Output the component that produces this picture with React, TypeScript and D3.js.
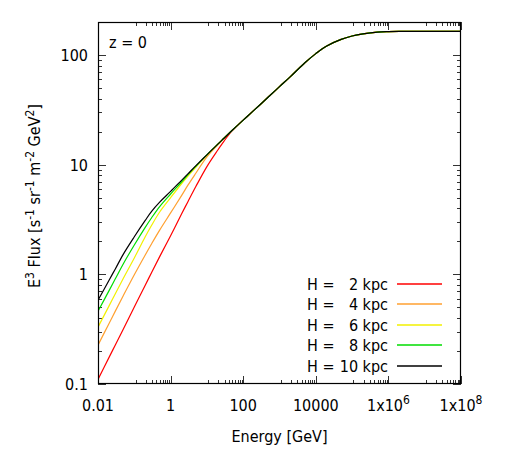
import React, { useRef, useEffect } from "react";
import * as d3 from "d3";

// energy grid [GeV] shared by every halo-height curve
const energies = [
  0.01, 0.02, 0.03, 0.05, 0.1, 0.2, 0.3, 0.5, 1, 2, 3, 5, 10, 20, 30, 50, 100,
  200, 500, 1000, 2000, 5000, 1e4, 2e4, 5e4, 1e5, 2e5, 5e5, 1e6, 2e6, 1e7, 1e8,
];

// E^3 flux for each halo height H
const flux2kpc = [
  0.11, 0.174, 0.227, 0.318, 0.503, 0.795, 1.04, 1.45, 2.25, 3.55, 4.6, 6.35,
  9.6, 13.6, 16.5, 20.4, 25.5, 31.4, 41.6, 51.5, 63.5, 85, 103, 121, 139, 149,
  156, 162, 163.5, 164, 164, 164,
];
const flux4kpc = [
  0.226, 0.355, 0.462, 0.641, 0.99, 1.5, 1.9, 2.53, 3.63, 5.22, 6.5, 8.4, 11.8,
  15.2, 17.5, 20.6, 25.5, 31.4, 41.6, 51.5, 63.5, 85, 103, 121, 139, 149, 156,
  162, 163.5, 164, 164, 164,
];
const flux6kpc = [
  0.33, 0.513, 0.665, 0.92, 1.41, 2.2, 2.8, 3.7, 5.0, 6.7, 7.85, 9.5, 12.2,
  15.4, 17.5, 20.6, 25.5, 31.4, 41.6, 51.5, 63.5, 85, 103, 121, 139, 149, 156,
  162, 163.5, 164, 164, 164,
];
const flux8kpc = [
  0.46, 0.707, 0.91, 1.25, 1.85, 2.68, 3.28, 4.15, 5.4, 6.95, 8.1, 9.7, 12.3,
  15.4, 17.5, 20.6, 25.5, 31.4, 41.6, 51.5, 63.5, 85, 103, 121, 139, 149, 156,
  162, 163.5, 164, 164, 164,
];
const flux10kpc = [
  0.58, 0.88, 1.12, 1.53, 2.2, 3.1, 3.75, 4.55, 5.7, 7.2, 8.25, 9.8, 12.3,
  15.4, 17.5, 20.6, 25.5, 31.4, 41.6, 51.5, 63.5, 85, 103, 121, 139, 149, 156,
  162, 163.5, 164, 164, 164,
];

const seriesValues = [flux2kpc, flux4kpc, flux6kpc, flux8kpc, flux10kpc];
const seriesHeights = ["2", "4", "6", "8", "10"];
const seriesColors = ["#ff0000", "#ffa030", "#f2f000", "#00dd00", "#000000"];

const xTicks = [0.01, 1, 100, 1e4, 1e6, 1e8];
const xTickText = ["0.01", "1", "100", "10000", "1x10", "1x10"];
const xTickExp = ["", "", "", "", "6", "8"];
const yTicks = [0.1, 1, 10, 100];
const yTickText = ["0.1", "1", "10", "100"];

const W = 507;
const H = 450;
const FONT = "'DejaVu Sans Condensed', 'DejaVu Sans', sans-serif";

const App = () => {
  const svgRef = useRef<SVGSVGElement>(null);

  useEffect(() => {
    const svg = d3.select(svgRef.current);
    svg.selectAll("*").remove();

    const left = 98, right = 461, top = 22, bottom = 384;

    const x = d3.scaleLog().domain([0.01, 1e8]).range([left, right]);
    const y = d3.scaleLog().domain([0.1, 200]).range([bottom, top]);

    svg.append("rect").attr("width", W).attr("height", H).attr("fill", "#fff");

    svg
      .append("clipPath")
      .attr("id", "plot-clip")
      .append("rect")
      .attr("x", left)
      .attr("y", top)
      .attr("width", right - left)
      .attr("height", bottom - top);

    // ticks, mirrored on top and right
    const ticks = svg.append("g").attr("stroke", "#333").attr("stroke-width", 1);
    const majLen = 8, minLen = 4;

    const xMinor: number[] = [];
    for (let i = 0; i < xTicks.length - 1; i++) {
      const lo = xTicks[i], hi = xTicks[i + 1];
      for (let k = 1; k < 10; k++) xMinor.push(lo + (k * (hi - lo)) / 10);
    }
    const yMinor: number[] = [];
    for (const d of [0.1, 1, 10, 100]) {
      for (let k = 2; k < 10; k++) if (k * d < 200) yMinor.push(k * d);
    }

    const xTickLines = (vals: number[], len: number) => {
      vals.forEach(v => {
        const px = Math.round(x(v)) + 0.5;
        ticks.append("line").attr("x1", px).attr("x2", px).attr("y1", bottom).attr("y2", bottom - len);
        ticks.append("line").attr("x1", px).attr("x2", px).attr("y1", top).attr("y2", top + len);
      });
    };
    const yTickLines = (vals: number[], len: number) => {
      vals.forEach(v => {
        const py = Math.round(y(v)) + 0.5;
        ticks.append("line").attr("x1", left).attr("x2", left + len).attr("y1", py).attr("y2", py);
        ticks.append("line").attr("x1", right).attr("x2", right - len).attr("y1", py).attr("y2", py);
      });
    };
    xTickLines(xTicks, majLen);
    xTickLines(xMinor, minLen);
    yTickLines(yTicks, majLen);
    yTickLines(yMinor, minLen);

    // curves, black drawn last so it sits on top
    const line = d3
      .line<[number, number]>()
      .x(d => x(d[0]))
      .y(d => y(d[1]))
      .curve(d3.curveCatmullRom.alpha(0.5));

    const curves = svg.append("g").attr("clip-path", "url(#plot-clip)");
    seriesValues.forEach((vals, i) => {
      curves
        .append("path")
        .attr("d", line(energies.map((e, j) => [e, vals[j]] as [number, number])))
        .attr("fill", "none")
        .attr("stroke", seriesColors[i])
        .attr("stroke-width", 1.2);
    });

    // frame
    svg
      .append("rect")
      .attr("x", left + 0.5)
      .attr("y", top + 0.5)
      .attr("width", right - left - 1)
      .attr("height", bottom - top - 1)
      .attr("fill", "none")
      .attr("stroke", "#000")
      .attr("stroke-width", 1.2);

    const txt = svg
      .append("g")
      .attr("font-family", FONT)
      .attr("font-size", 16)
      .attr("fill", "#000");

    // x tick labels
    xTicks.forEach((v, i) => {
      const t = txt
        .append("text")
        .attr("x", x(v))
        .attr("y", 411)
        .attr("text-anchor", "middle");
      t.append("tspan").text(xTickText[i]);
      if (xTickExp[i]) {
        t.append("tspan").attr("dy", -7).attr("font-size", 12).text(xTickExp[i]);
      }
    });

    // y tick labels
    yTicks.forEach((v, i) => {
      txt
        .append("text")
        .attr("x", 88)
        .attr("y", y(v) + 6)
        .attr("text-anchor", "end")
        .text(yTickText[i]);
    });

    // axis titles
    txt
      .append("text")
      .attr("x", (left + right) / 2)
      .attr("y", 442)
      .attr("text-anchor", "middle")
      .text("Energy [GeV]");

    const yTitle = txt
      .append("text")
      .attr("transform", "translate(40,196) rotate(-90)")
      .attr("text-anchor", "middle");
    const parts: [string, boolean][] = [
      ["E", false], ["3", true], [" Flux [s", false], ["-1", true],
      [" sr", false], ["-1", true], [" m", false], ["-2", true],
      [" GeV", false], ["2", true], ["]", false],
    ];
    let raised = false;
    parts.forEach(([s, sup]) => {
      const ts = yTitle.append("tspan").text(s);
      if (sup) ts.attr("font-size", 12);
      if (sup && !raised) ts.attr("dy", -6);
      if (!sup && raised) ts.attr("dy", 6);
      raised = sup;
    });

    txt.append("text").attr("x", 109).attr("y", 48).text("z = 0");

    // legend
    const rowY = (i: number) => 283.5 + i * 20.6;
    const legend = svg.append("g");
    seriesHeights.forEach((h, i) => {
      txt.append("text").attr("x", 307).attr("y", rowY(i) + 6).text("H =");
      txt
        .append("text")
        .attr("x", 388)
        .attr("y", rowY(i) + 6)
        .attr("text-anchor", "end")
        .text(`${h} kpc`);
      legend
        .append("line")
        .attr("x1", 397)
        .attr("x2", 442)
        .attr("y1", Math.round(rowY(i)))
        .attr("y2", Math.round(rowY(i)))
        .attr("stroke", seriesColors[i])
        .attr("stroke-width", 1.5);
    });
  }, []);

  return (
    <svg
      ref={svgRef}
      width={W}
      height={H}
      style={{ position: "absolute", left: 0, top: 0 }}
    />
  );
};

export default App;
